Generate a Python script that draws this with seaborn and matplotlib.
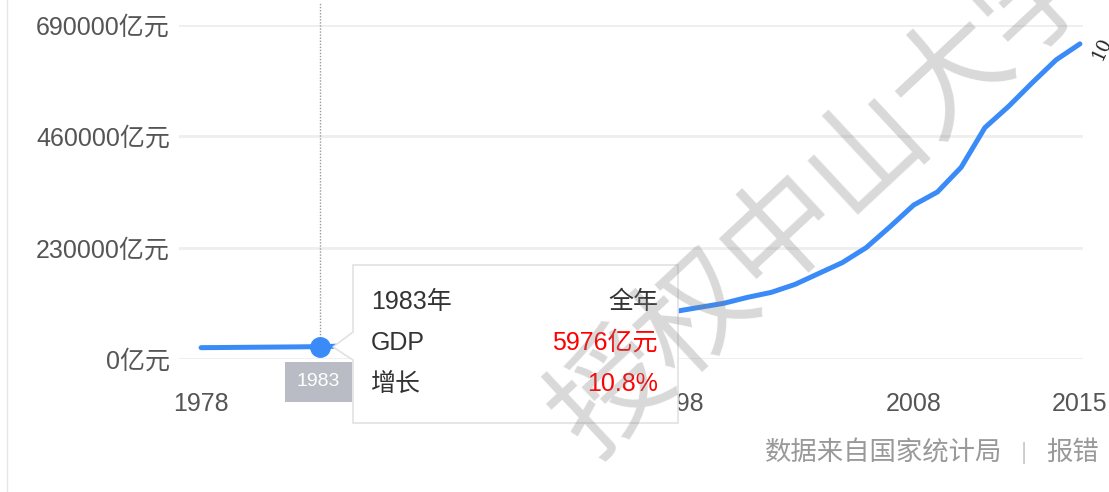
import matplotlib
matplotlib.use("Agg")
import matplotlib.pyplot as plt
import seaborn as sns
import pandas as pd
from matplotlib.patches import Polygon, Rectangle
from matplotlib.lines import Line2D

# GDP (亿元), values
years = list(range(1978, 2016))
gdp = [23400, 23800, 24200, 24600, 25000, 25600, 26700, 28400, 29600, 31200,
       34000, 35800, 37400, 40300, 45000, 52900, 64800, 76500, 86200, 93400,
       98600, 106800, 115000, 127300, 137600, 154000, 176600, 199200, 230000, 273000,
       318000, 345000, 396000, 478000, 522000, 571000, 618000, 651000]
y_ticks = [0, 230000, 460000, 690000]
y_labels = ["0亿元", "230000亿元", "460000亿元", "690000亿元"]
x_ticks = [1978, 1988, 1998, 2008, 2015]
hover_year = 1983
tip_rows = [("1983年", "全年"), ("GDP", "5976亿元"), ("增长", "10.8%")]
source = "数据来自国家统计局"
report = "报错"
watermark = "授权中山大学"

sns.set_style("white")
plt.rcParams['font.family'] = ['Liberation Sans', 'Noto Sans CJK SC']

W, H = 1109, 492
fig = plt.figure(figsize=(W / 100, H / 100), dpi=100)


def px(x, y):
    return x / W, 1 - y / H


ax = fig.add_axes([179 / W, 1 - 359 / H, (1083 - 179) / W, (359 - 25) / H])
df = pd.DataFrame({"year": years, "gdp": gdp})
sns.lineplot(data=df, x="year", y="gdp", ax=ax, color="#3a8bf8", lw=3.6,
             clip_on=False, solid_joinstyle="round", solid_capstyle="round")

ax.set_xlim(1977.07, 2015.13)
ax.set_ylim(0, 690000)
ax.set_yticks(y_ticks)
ax.set_yticklabels(y_labels)
ax.set_xticks(x_ticks)
ax.set_xticklabels([str(t) for t in x_ticks])
ax.set_xlabel("")
ax.set_ylabel("")
ax.tick_params(axis="both", length=0, labelsize=18, labelcolor="#555555")
ax.tick_params(axis="y", pad=6.5)
ax.tick_params(axis="x", pad=24)
ax.yaxis.grid(True, color="#eeeeee", lw=2)
ax.xaxis.grid(False)
for s in ax.spines.values():
    s.set_visible(False)

# hover pointer
hv = gdp[years.index(hover_year)]
ax.axvline(hover_year, ymin=hv / 690000, ymax=1.065, color="#999999", lw=1,
           ls=(0, (1, 1.2)), clip_on=False, zorder=1)
ax.plot([hover_year], [hv], "o", color="#3a8bf8", ms=14, zorder=4, clip_on=False)

# year label under the pointer
fig.add_artist(Rectangle(px(285, 402), 67 / W, 40 / H, transform=fig.transFigure,
                         facecolor="#b9bcc4", edgecolor="none", zorder=3))
fig.text(*px(318, 382), str(hover_year), color="white", fontsize=14,
         ha="center", va="center", zorder=4)

# tooltip
tip = [(353, 265), (678, 265), (678, 423), (353, 423), (353, 360), (333, 347), (353, 332)]
fig.add_artist(Polygon([px(x, y) for x, y in tip], closed=True, transform=fig.transFigure,
                       facecolor="white", edgecolor="#e2e2e2", lw=1.2, zorder=5))
for i, (left, right) in enumerate(tip_rows):
    y = 302 + i * 41
    fig.text(*px(371, y), left, color="#333333", fontsize=18, ha="left", va="center", zorder=6)
    fig.text(*px(658, y), right, color="#333333" if i == 0 else "#ff0000",
             fontsize=18, ha="right", va="center", zorder=6)

# footer
fig.text(*px(1002, 453), source, color="#999999", fontsize=19, ha="right", va="center")
fig.text(*px(1024, 453), "|", color="#cccccc", fontsize=17, ha="center", va="center")
fig.text(*px(1046, 453), report, color="#999999", fontsize=19, ha="left", va="center")

# watermark
fig.text(*px(828, 198), watermark, color="#808080", alpha=0.3, fontsize=84,
         rotation=43, rotation_mode="anchor", ha="center", va="center", zorder=8)
fig.text(*px(1102, 48), "10", color="#222222", fontsize=13, rotation=65,
         family="DejaVu Serif", ha="center", va="center")

fig.add_artist(Line2D([7 / W, 7 / W], [0, 1], color="#e6e6e6", lw=1))

fig.savefig("out.png", dpi=100, facecolor="white")
